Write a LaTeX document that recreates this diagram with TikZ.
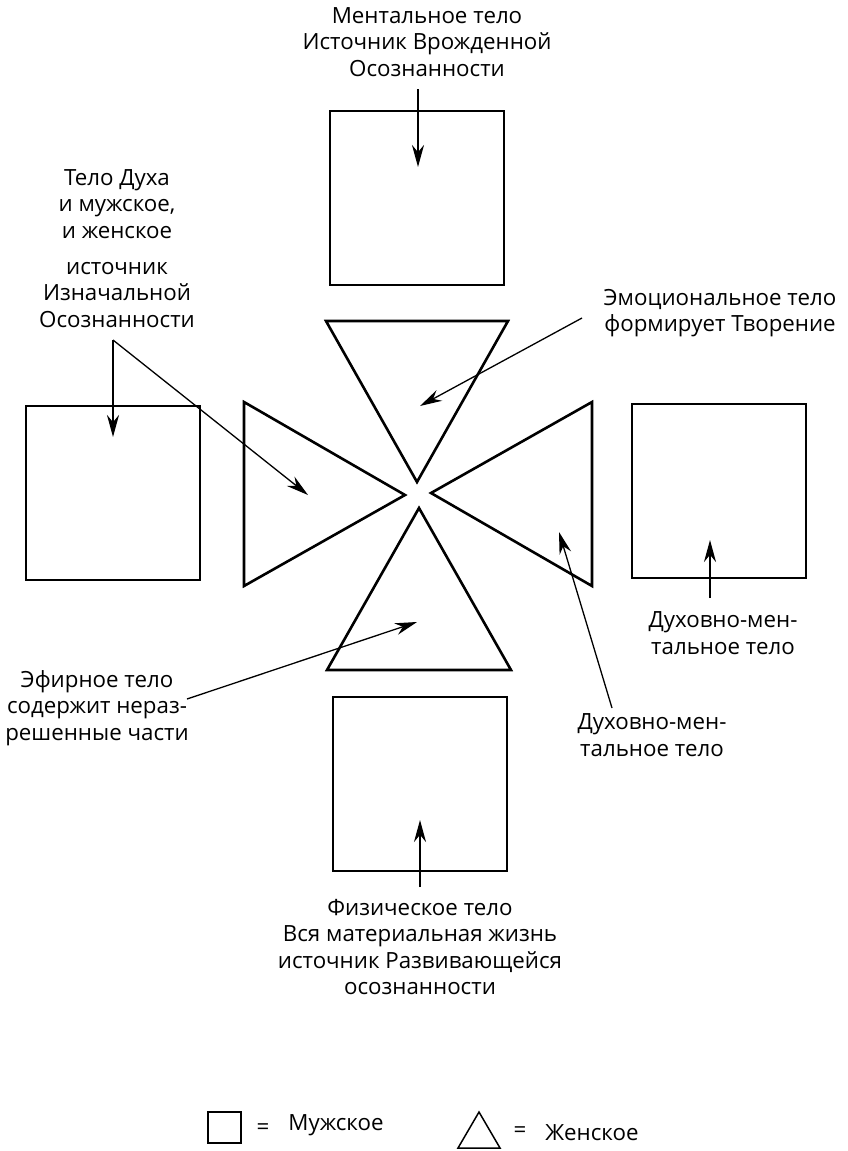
\documentclass[tikz,border=0pt]{standalone}
\usepackage{fontspec}
\setmainfont{Open Sans}
\usepackage{tikz}
\usetikzlibrary{arrows}
\usetikzlibrary{arrows.meta}
\usetikzlibrary{positioning}
\usetikzlibrary{calc}
\tikzset{basic body/.style={draw,line width=2.6pt}}
\tikzset{male body/.style={basic body,rectangle,minimum width=174pt,minimum height=174pt,inner sep=0pt}}
\tikzset{female body/.style={basic body,line join=miter}}
\tikzset{pointer/.style={draw,line width=1.3pt,-{Stealth[length=22pt,width=12pt]}}}

\begin{document}
\begin{tikzpicture}
    [
      x=1pt, y=-1pt,
      caption/.style = {align=center, inner sep=0pt, font=\fontsize{22.3}{26.5}\selectfont},
      straight pointer/.style = {pointer, line width=2pt},
    ]
    \useasboundingbox (0,0) rectangle (848,1151);

    % male bodies (squares)
    \foreach \n/\x/\y in {mental/417/198,spirit/113/493,spiritmental/719/491,physical/420/784}
      \node [male body] (\n) at (\x,\y) {};

    % female bodies (triangles)
    \draw [female body] (326,321) -- (508,321) -- (417,482) -- cycle;
    \draw [female body] (244,402) -- (244,586) -- (405,495) -- cycle;
    \draw [female body] (592,402) -- (592,586) -- (431,493) -- cycle;
    \draw [female body] (419,508) -- (327,670) -- (511,670) -- cycle;

    % labels
    \node [caption] (mental label) at (427,42) {Ментальное тело\\Источник Врожденной\\Осознанности};
    \node [caption] (spirit label) at (117,204) {Тело Духа\\и мужское,\\и женское};
    \node [caption] (source label) at (117,295) {источник\\Изначальной\\Осознанности};
    \node [caption] (emotional label) at (720,313) {Эмоциональное тело\\формирует Творение};
    \node [caption] (sm label) at (723,633) {Духовно-мен-\\тальное тело};
    \node [caption] (sm2 label) at (652,735) {Духовно-мен-\\тальное тело};
    \node [caption] (etheric label) at (97,708) {Эфирное тело\\содержит нераз-\\решенные части};
    \node [caption] (physical label) at (420,947) {Физическое тело\\Вся материальная жизнь\\источник Развивающейся\\осознанности};

    % arrow ends
    \coordinate (mental from) at (418,89);
    \coordinate (mental to) at (418,167);
    \coordinate (source from) at (113,340);
    \coordinate (spirit to) at (113,437);
    \coordinate (left to) at (308,495);
    \coordinate (emotional from) at (582,318);
    \coordinate (emotional to) at (420,406);
    \coordinate (etheric from) at (187,699);
    \coordinate (etheric to) at (417,622);
    \coordinate (sm from) at (710,598);
    \coordinate (sm to) at (710,540);
    \coordinate (sm2 from) at (612,708);
    \coordinate (sm2 to) at (559,532);
    \coordinate (physical from) at (420,887);
    \coordinate (physical to) at (420,820);

    % pointers
    \draw [straight pointer] (mental from) -- (mental to);
    \draw [straight pointer] (source from) -- (spirit to);
    \draw [pointer] (source from) -- (left to);
    \draw [pointer] (emotional from) -- (emotional to);
    \draw [pointer] (etheric from) -- (etheric to);
    \draw [straight pointer] (sm from) -- (sm to);
    \draw [pointer] (sm2 from) -- (sm2 to);
    \draw [straight pointer] (physical from) -- (physical to);

    % legend
    \node [male body, minimum width=33pt, minimum height=31pt, line width=1.5pt] (male key) at (224.5,1127.5) {};
    \node [caption] (male eq) at (263,1129) {=};
    \node [caption] (male text) at (336,1125) {Мужское};
    \draw [female body, line width=1.5pt] (479,1112) -- (458,1148) -- (500,1148) -- cycle;
    \node [caption] (female eq) at (520,1132) {=};
    \node [caption] (female text) at (592,1133) {Женское};

\end{tikzpicture}
\end{document}
